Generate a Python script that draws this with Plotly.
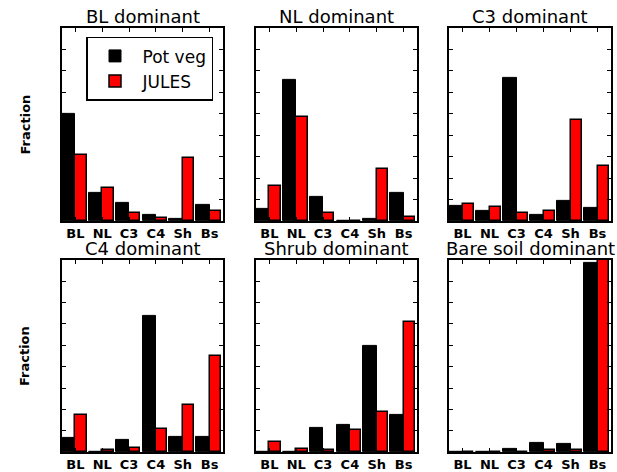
import plotly.graph_objects as go

categories = ["BL", "NL", "C3", "C4", "Sh", "Bs"]
titles = ["BL dominant", "NL dominant", "C3 dominant",
          "C4 dominant", "Shrub dominant", "Bare soil dominant"]

potveg_bl = [0.498, 0.131, 0.084, 0.031, 0.008, 0.076]
jules_bl = [0.309, 0.155, 0.037, 0.015, 0.294, 0.048]
potveg_nl = [0.057, 0.660, 0.112, 0.003, 0.008, 0.132]
jules_nl = [0.163, 0.486, 0.037, 0.003, 0.241, 0.019]
potveg_c3 = [0.073, 0.046, 0.668, 0.031, 0.093, 0.060]
jules_c3 = [0.082, 0.066, 0.040, 0.049, 0.470, 0.258]
potveg_c4 = [0.067, 0.003, 0.058, 0.639, 0.070, 0.073]
jules_c4 = [0.176, 0.012, 0.020, 0.107, 0.221, 0.449]
potveg_sh = [0.003, 0.003, 0.112, 0.129, 0.495, 0.174]
jules_sh = [0.050, 0.017, 0.011, 0.106, 0.190, 0.612]
potveg_bs = [0.002, 0.001, 0.017, 0.042, 0.036, 0.886]
jules_bs = [0.001, 0.001, 0.002, 0.008, 0.011, 0.905]

potveg = [potveg_bl, potveg_nl, potveg_c3, potveg_c4, potveg_sh, potveg_bs]
jules = [jules_bl, jules_nl, jules_c3, jules_c4, jules_sh, jules_bs]

W, H = 617, 472
xdom = [(62 / W, 223 / W), (256 / W, 417 / W), (449 / W, 611 / W)]
ydom = [(1 - 222 / H, 1 - 28 / H), (1 - 454 / H, 1 - 261 / H)]

fig = go.Figure()
xpos = list(range(len(categories)))
for k in range(6):
    r, c = divmod(k, 3)
    ax = "" if k == 0 else str(k + 1)
    fig.add_trace(go.Bar(
        x=xpos, y=potveg[k], name="Pot veg", showlegend=(k == 0),
        marker=dict(color="black", line=dict(color="black", width=1)),
        width=0.5, offset=-0.5, xaxis="x" + ax, yaxis="y" + ax))
    fig.add_trace(go.Bar(
        x=xpos, y=jules[k], name="JULES", showlegend=(k == 0),
        marker=dict(color="#ff0000", line=dict(color="black", width=1.5)),
        width=0.42, offset=0.0, xaxis="x" + ax, yaxis="y" + ax))
    axis_common = dict(showline=True, linecolor="black", linewidth=1.5,
                       mirror="ticks", ticks="inside", ticklen=4,
                       tickcolor="black", tickwidth=1, showgrid=False,
                       zeroline=False)
    fig.layout["xaxis" + ax] = dict(
        domain=xdom[c], range=[-0.5, 5.5], tickvals=xpos, ticktext=categories,
        tickfont=dict(family="DejaVu Sans", size=13, color="black", weight="bold"),
        anchor="y" + ax, **axis_common)
    fig.layout["yaxis" + ax] = dict(
        domain=ydom[r], range=[0, 0.9], dtick=0.1, showticklabels=False,
        anchor="x" + ax, **axis_common)
    fig.add_annotation(
        text=titles[k], x=(xdom[c][0] + xdom[c][1]) / 2, y=ydom[r][1],
        xref="paper", yref="paper", xanchor="center", yanchor="bottom",
        yshift=-1, showarrow=False,
        font=dict(family="DejaVu Sans", size=18, color="black"))

for r in range(2):
    fig.add_annotation(
        text="Fraction", x=25 / W, y=(ydom[r][0] + ydom[r][1]) / 2,
        xref="paper", yref="paper", xanchor="center", yanchor="middle",
        textangle=-90, showarrow=False,
        font=dict(family="DejaVu Sans", size=13, color="black", weight="bold"))

fig.update_layout(
    width=W, height=H, margin=dict(l=0, r=0, t=0, b=0),
    paper_bgcolor="white", plot_bgcolor="white",
    barmode="overlay", bargap=0,
    font=dict(family="DejaVu Sans", color="black"),
    legend=dict(x=86 / W, y=1 - 37 / H, xanchor="left", yanchor="top",
                bgcolor="white", bordercolor="black", borderwidth=1.5,
                font=dict(family="DejaVu Sans", size=17, color="black"),
                itemwidth=45, tracegroupgap=2),
)

fig.write_html("out.html")
